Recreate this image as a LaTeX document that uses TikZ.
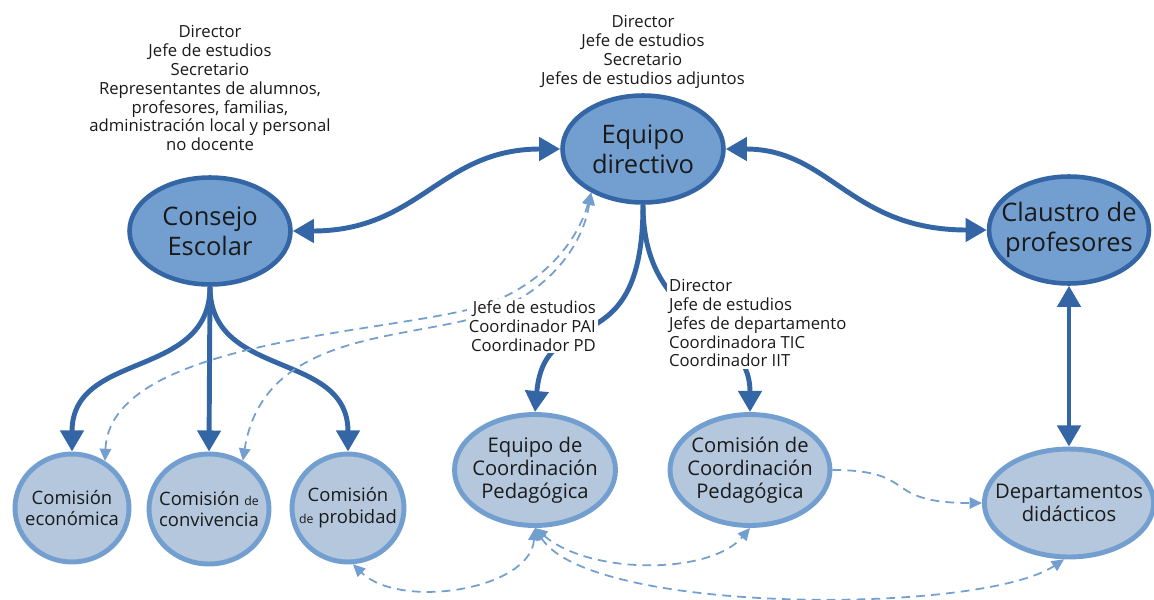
\documentclass[tikz,border=0pt]{standalone}
\usepackage{fontspec}
\setmainfont{Open Sans}
\usetikzlibrary{shapes.geometric}
\usetikzlibrary{arrows.meta}
\usetikzlibrary{backgrounds}
\definecolor{edgedark}{HTML}{3465A4}
\definecolor{filldark}{HTML}{729FCF}
\definecolor{edgelight}{HTML}{729FCF}
\definecolor{filllight}{HTML}{B4C7DC}
\definecolor{textgray}{HTML}{1A1A1A}
\tikzset{
	every node/.style={text=textgray},
	organ/.style={ellipse, draw=edgedark, fill=filldark, line width=2.6pt, inner sep=-8pt, align=center, font=\fontsize{14.5}{17}\selectfont},
	comision/.style={ellipse, draw=edgelight, fill=filllight, line width=2.8pt, inner sep=-8pt, align=center, font=\fontsize{11.5}{13}\selectfont},
	circulo/.style={comision, font=\fontsize{10.5}{12.5}\selectfont},
	members/.style={align=center, fill=white, inner sep=1pt, font=\fontsize{9.5}{10.8}\selectfont},
	rel/.style={draw=edgedark, line width=2.8pt, -{Triangle[length=12pt,width=13pt]}},
	relboth/.style={rel, {Triangle[length=12pt,width=13pt]}-{Triangle[length=12pt,width=13pt]}},
	link/.style={draw=edgelight, line width=1pt, dash pattern=on 5pt off 3.5pt, -{Triangle[length=7pt,width=6.5pt]}},
	linkboth/.style={link, {Triangle[length=7pt,width=6.5pt]}-{Triangle[length=7pt,width=6.5pt]}},
}

\begin{document}
\begin{tikzpicture}[x=0.02cm,y=-0.02cm]
	\useasboundingbox (0,0) rectangle (1154,599);

	% organos de gobierno.....................
	\node [organ, minimum width=3.22cm, minimum height=2.14cm] (consejo) at (210,231) {Consejo\\Escolar};
	\node [organ, minimum width=3.22cm, minimum height=2.14cm] (equipo) at (643,149) {Equipo\\directivo};
	\node [organ, minimum width=3.2cm, minimum height=2.14cm] (claustro) at (1069,230) {Claustro de\\profesores};

	% comisiones y equipos....................
	\node [circulo, minimum width=2.28cm, minimum height=2.16cm] (economica) at (72,508) {Comisión\\económica};
	\node [circulo, minimum width=2.4cm, minimum height=2.2cm] (convivencia) at (209,509) {Comisión {\scriptsize de}\\convivencia};
	\node [circulo, minimum width=2.24cm, minimum height=2.16cm] (probidad) at (348,508) {Comisión\\{\scriptsize de} probidad};
	\node [comision, minimum width=3.22cm, minimum height=2.22cm] (ecp) at (535,470) {Equipo de\\Coordinación\\Pedagógica};
	\node [comision, minimum width=3.2cm, minimum height=2.22cm] (ccp) at (750,470) {Comisión de\\Coordinación\\Pedagógica};
	\node [comision, minimum width=3.34cm, minimum height=2.16cm] (departamentos) at (1069,503) {Departamentos\\didácticos};

	% miembros................................
	\node [members] (consejo members) at (210,88) {Director\\Jefe de estudios\\Secretario\\Representantes de alumnos,\\profesores, familias,\\administración local y personal\\no docente};
	\node [members] (equipo members) at (643,52) {Director\\Jefe de estudios\\Secretario\\Jefes de estudios adjuntos};
	\node [members, align=right, anchor=east] (ecp members) at (598,326) {Jefe de estudios\\Coordinador PAI\\Coordinador PD};
	\node [members, align=left, anchor=west] (ccp members) at (667,323) {Director\\Jefe de estudios\\Jefes de departamento\\Coordinadora TIC\\Coordinador IIT};

	\begin{scope}[on background layer]
		% relaciones principales..................
		\draw [relboth] (equipo.west) .. controls (440,149) and (420,231) .. (consejo.east);
		\draw [relboth] (equipo.east) .. controls (830,149) and (850,230) .. (claustro.west);
		\draw [relboth] (claustro.south) -- (departamentos.north);

		% consejo escolar -> comisiones...........
		\draw [rel] (consejo.south) .. controls (210,380) and (72,350) .. (economica.north);
		\draw [rel] (consejo.south) -- (convivencia.north);
		\draw [rel] (consejo.south) .. controls (210,380) and (348,350) .. (probidad.north);

		% equipo directivo -> equipos.............
		\draw [rel] (equipo.south) .. controls (643,370) and (545,300) .. (ecp.north);
		\draw [rel] (equipo.south) .. controls (643,330) and (750,320) .. (ccp.north);

		% relaciones secundarias..................
		\draw [linkboth] (equipo.-140) .. controls (575,250) and (530,295) .. (467,310) .. controls (360,335) and (110,345) .. (economica.55);
		\draw [linkboth] (equipo.-140) .. controls (580,260) and (530,305) .. (467,320) .. controls (383,340) and (262,340) .. (convivencia.55);
		\draw [linkboth] (ecp.south) .. controls (530,590) and (400,610) .. (probidad.-85);
		\draw [linkboth] (ecp.south) .. controls (590,575) and (710,575) .. (ccp.south);
		\draw [linkboth] (ecp.south) .. controls (590,615) and (980,615) .. (departamentos.-95);
		\draw [link] (ccp.east) .. controls (920,470) and (880,503) .. (departamentos.west);
	\end{scope}
\end{tikzpicture}
\end{document}
